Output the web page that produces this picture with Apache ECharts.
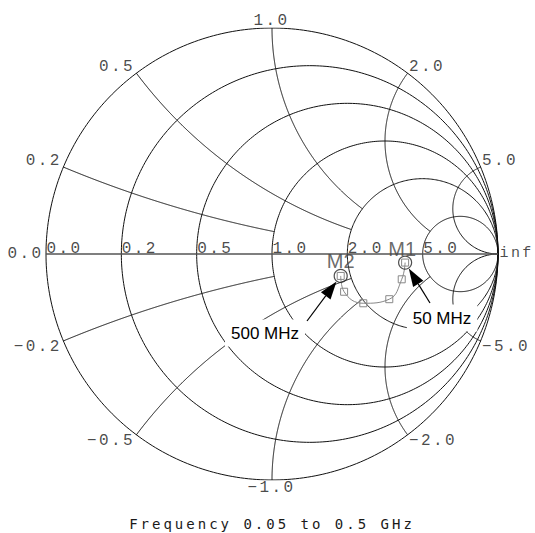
<!DOCTYPE html>
<html><head><meta charset="utf-8">
<script src="https://cdn.jsdelivr.net/npm/echarts@6/dist/echarts.min.js"></script>
<style>
html,body{margin:0;padding:0;background:#fff;}
#c{width:535px;height:533px;}
text[style*="Liberation Mono"]{letter-spacing:2.4px;}
text[style*="DejaVu Sans Mono"]{letter-spacing:3px;}
</style></head><body><div id="c"></div>
<script>
// ---- chart values ----
const resistanceCircles = [0, 0.2, 0.5, 1, 2, 5];
const resistanceLabels = ['0.0', '0.2', '0.5', '1.0', '2.0', '5.0'];
const reactanceArcs = [0.2, 0.5, 1, 2, 5];
const reactanceArcEnd = [1, 2, 2, 5, Infinity]; // resistance where each reactance arc stops
const reactanceLabelsPos = ['0.2', '0.5', '1.0', '2.0', '5.0'];
const reactanceLabelsNeg = ['\u22120.2', '\u22120.5', '\u22121.0', '\u22122.0', '\u22125.0'];
const traceRe = [0.589, 0.574, 0.519, 0.404, 0.319, 0.304];
const traceIm = [-0.038, -0.112, -0.200, -0.218, -0.167, -0.097];
const markerNames = ['M1', 'M2'];
const markerIdx = [0, 5];
const markerNotes = ['50 MHz', '500 MHz'];
const titleText = 'Frequency 0.05 to 0.5 GHz';

// ---- helpers ----
function gamma(r, x) {
  const d = (r + 1) * (r + 1) + x * x;
  return [(r * r - 1 + x * x) / d, 2 * x / d];
}

const gridLines = [];
resistanceCircles.forEach(r => {
  const cx = r / (r + 1), rad = 1 / (r + 1), pts = [];
  for (let i = 0; i <= 360; i++) {
    const a = i * Math.PI / 180;
    pts.push([cx + rad * Math.cos(a), rad * Math.sin(a)]);
  }
  gridLines.push({ coords: pts });
});
reactanceArcs.forEach((x, k) => {
  [x, -x].forEach(xx => {
    const tmax = isFinite(reactanceArcEnd[k]) ? Math.atan(reactanceArcEnd[k]) : Math.PI / 2;
    const pts = [];
    const n = 400;
    for (let i = 0; i <= n; i++) {
      const t = tmax * i / n;
      pts.push(t >= Math.PI / 2 - 1e-9 ? [1, 0] : gamma(Math.tan(t), xx));
    }
    gridLines.push({ coords: pts });
  });
});
gridLines.push({ coords: [[-1, 0], [1, 0]], lineStyle: { color: '#555', width: 1.6 } });

// labels
const labelFont = { fontFamily: 'Liberation Mono', fontSize: 16, color: '#1a1a1a' };
const labelData = [];
resistanceCircles.forEach((r, i) => {
  labelData.push({ value: [(r - 1) / (r + 1), 0],
    label: Object.assign({ formatter: resistanceLabels[i], position: [1, 3], align: 'left', verticalAlign: 'bottom' }, labelFont) });
});
labelData.push({ value: [1, 0], label: Object.assign({}, labelFont, { formatter: 'inf', fontSize: 15, position: [2, 0], align: 'left', verticalAlign: 'middle' }) });
labelData.push({ value: [-1, 0], label: Object.assign({ formatter: resistanceLabels[0], position: [-2, 0], align: 'right', verticalAlign: 'middle' }, labelFont) });
reactanceArcs.forEach((x, i) => {
  const g = gamma(0, x);
  const h = x < 1 ? 'right' : (x > 1 ? 'left' : 'center');
  const dx = x < 1 ? -1 : (x > 1 ? 2 : 0);
  const dyTop = x === 1 ? 1 : 2;
  labelData.push({ value: g, label: Object.assign({ formatter: reactanceLabelsPos[i], position: [dx, dyTop], align: h, verticalAlign: 'bottom' }, labelFont) });
  labelData.push({ value: [g[0], -g[1]], label: Object.assign({ formatter: reactanceLabelsNeg[i], position: [dx, -dyTop + 1], align: h, verticalAlign: 'top' }, labelFont) });
});

const traceData = traceRe.map((v, i) => [v, traceIm[i]]);
const markerData = markerIdx.map((idx, k) => ({
  value: traceData[idx],
  label: { formatter: markerNames[k], offset: k === 0 ? [-3, 4] : [0, 2] }
}));

const chart = echarts.init(document.getElementById('c'), null, { renderer: 'svg', width: 535, height: 533 });
chart.setOption({
  animation: false,
  backgroundColor: '#fff',
  title: {
    text: titleText, left: 272, top: 517, textAlign: 'center', padding: 0,
    textStyle: { fontFamily: 'DejaVu Sans Mono', fontSize: 14, fontWeight: 'normal', color: '#1a1a1a' }
  },
  grid: { left: 46, top: 28, width: 452, height: 452 },
  xAxis: { type: 'value', min: -1, max: 1, show: false },
  yAxis: { type: 'value', min: -1, max: 1, show: false },
  series: [
    {
      type: 'lines', coordinateSystem: 'cartesian2d', polyline: true, silent: true, z: 1,
      lineStyle: { color: '#111', width: 1, opacity: 1 },
      data: gridLines
    },
    {
      type: 'scatter', symbolSize: 1, silent: true, z: 2,
      itemStyle: { color: 'rgba(0,0,0,0)' },
      label: { show: true },
      data: labelData
    },
    {
      type: 'line', smooth: 0.45, symbol: 'rect', symbolSize: 7, showAllSymbol: true, z: 3,
      itemStyle: { color: 'rgba(0,0,0,0)', borderColor: '#888', borderWidth: 1 },
      lineStyle: { color: '#888', width: 1 },
      data: traceData
    },
    {
      type: 'scatter', symbol: 'circle', symbolSize: 13, z: 4,
      itemStyle: { color: 'rgba(0,0,0,0)', borderColor: '#222', borderWidth: 1.2 },
      label: { show: true, position: 'top', distance: 0, fontFamily: 'Liberation Sans', fontSize: 20, color: '#444' },
      data: markerData
    }
  ]
});

// annotations with arrows pointing to the markers
const noteCenters = [[442, 318], [265, 333]];
const arrowStarts = [[430, 303], [307, 321]];
const graphics = [];
markerIdx.forEach((idx, k) => {
  const m = chart.convertToPixel({ gridIndex: 0 }, traceData[idx]);
  const s = arrowStarts[k];
  let ux = s[0] - m[0], uy = s[1] - m[1];
  const L = Math.hypot(ux, uy); ux /= L; uy /= L;
  const tip = [m[0] + ux * 7, m[1] + uy * 7];
  const base = [tip[0] + ux * 18, tip[1] + uy * 18];
  const px = -uy, py = ux;
  graphics.push({
    type: 'text', z: 100,
    style: {
      text: markerNotes[k], x: noteCenters[k][0], y: noteCenters[k][1],
      font: '17px "Liberation Sans"', fill: '#000',
      align: 'center', verticalAlign: 'middle', textAlign: 'center', textVerticalAlign: 'middle',
      backgroundColor: '#fff', padding: [5, 6]
    }
  });
  graphics.push({
    type: 'line', z: 101,
    shape: { x1: s[0], y1: s[1], x2: base[0], y2: base[1] },
    style: { stroke: '#000', lineWidth: 1.2 }
  });
  graphics.push({
    type: 'polygon', z: 101,
    shape: { points: [tip, [base[0] + px * 6, base[1] + py * 6], [base[0] - px * 6, base[1] - py * 6]] },
    style: { fill: '#000' }
  });
});
chart.setOption({ graphic: graphics });
</script></body></html>
